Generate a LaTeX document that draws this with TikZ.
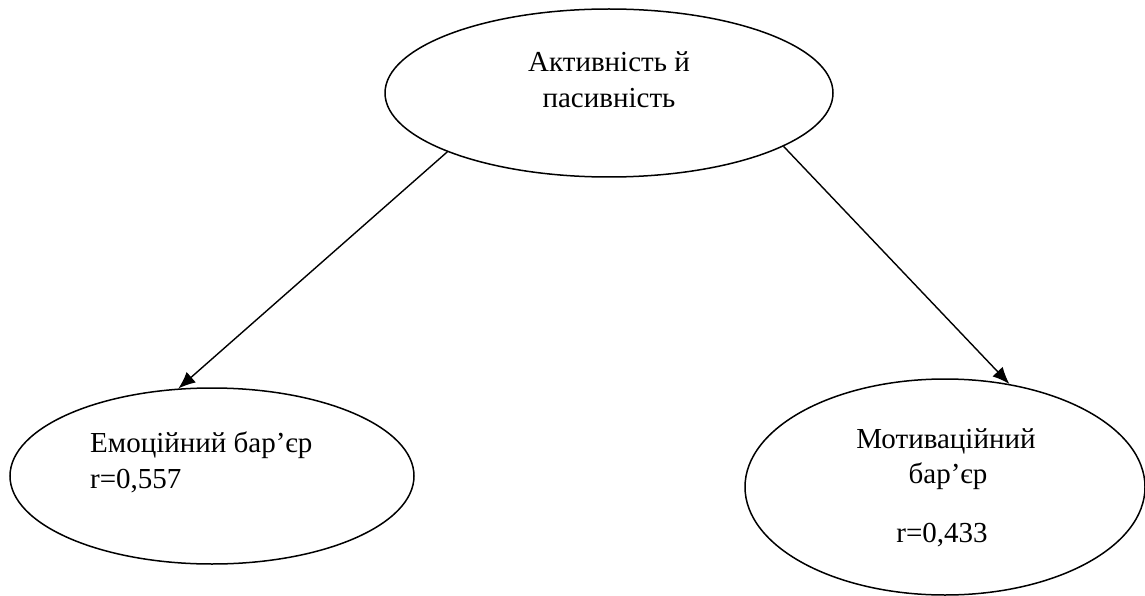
\documentclass[tikz,border=0pt]{standalone}
\usepackage{fontspec}
\setmainfont{Liberation Serif}
\usetikzlibrary{shapes.geometric,arrows.meta}
\tikzset{
  oval/.style={draw=black, line width=1.5pt, ellipse, inner sep=0pt},
  lbl/.style={inner sep=0pt, font=\fontsize{29}{35}\selectfont},
  conn/.style={line width=1.4pt, -{Latex[length=17pt,width=14pt]}}
}
\begin{document}
\begin{tikzpicture}[x=1pt,y=-1pt]
\useasboundingbox (0,0) rectangle (1145,596);
\node[oval, minimum width=448pt, minimum height=168pt] (top) at (609,93) {};
\node[oval, minimum width=404pt, minimum height=176pt] (left) at (212,476) {};
\node[oval, minimum width=400pt, minimum height=216pt] (right) at (945,487) {};
\node[lbl, anchor=base] (t1) at (609,72) {Активність й};
\node[lbl, anchor=base] (t2) at (609,108) {пасивність};
\node[lbl, anchor=base west] (l1) at (90,452) {Емоційний бар’єр};
\node[lbl, anchor=base west] (l2) at (90,488) {r=0,557};
\node[lbl, anchor=base] (r1) at (946,448) {Мотиваційний};
\node[lbl, anchor=base] (r2) at (948,483) {бар’єр};
\node[lbl, anchor=base] (r3) at (942,542) {r=0,433};
\draw[conn] (top.200.1) -- (left.111.1);
\draw[conn] (top.343.4) -- (right.58.5);
\end{tikzpicture}
\end{document}
